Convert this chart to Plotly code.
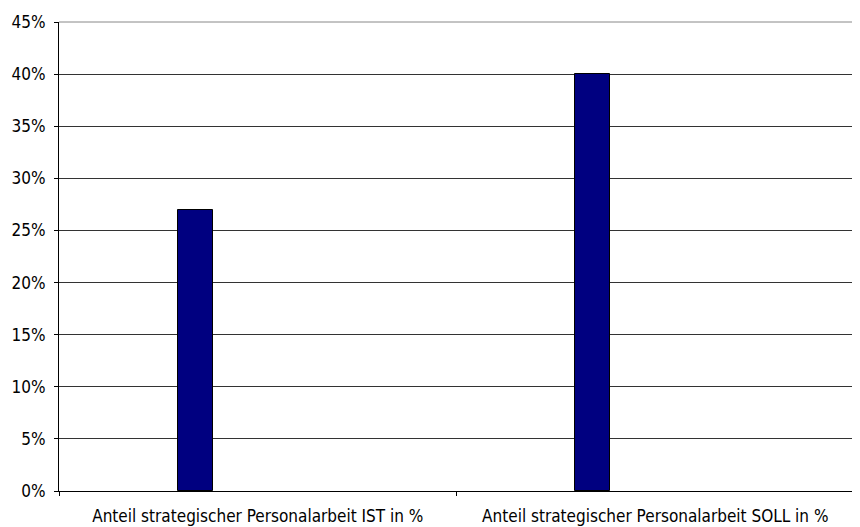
import plotly.graph_objects as go

categories = ["Anteil strategischer Personalarbeit IST in %",
              "Anteil strategischer Personalarbeit SOLL in %"]
values = [0.27, 0.40]
y_ticks = [0, 0.05, 0.10, 0.15, 0.20, 0.25, 0.30, 0.35, 0.40, 0.45]
y_tick_labels = ["0%", "5%", "10%", "15%", "20%", "25%", "30%", "35%", "40%", "45%"]

FONT = "DejaVu Sans Condensed, Liberation Sans Narrow, Arial Narrow, sans-serif"

fig = go.Figure(go.Bar(
    x=categories, y=values,
    width=0.088, offset=-0.201,
    marker=dict(color="#000080", line=dict(color="#000000", width=1)),
))

# page body has an 8px default margin; size the figure to compensate
fig.update_layout(
    width=852, height=519,
    margin=dict(l=51, r=6, t=14, b=36),
    paper_bgcolor="white", plot_bgcolor="white",
    showlegend=False,
    font=dict(family=FONT, size=17, color="#000000"),
    bargap=0,
)
fig.update_xaxes(
    type="category", range=[-0.5, 1.5], automargin=False,
    showline=True, linecolor="#000000", linewidth=1,
    ticks="outside", ticklen=4, tickcolor="#000000", tickson="boundaries",
    ticklabelstandoff=10,
    showgrid=False, tickfont=dict(size=17),
)
fig.update_yaxes(
    range=[0, 0.45], tickvals=y_ticks, ticktext=y_tick_labels, automargin=False,
    showline=True, linecolor="#000000", linewidth=1,
    ticks="outside", ticklen=4, tickcolor="#000000", ticklabelstandoff=5,
    showgrid=True, gridcolor="#333333", gridwidth=1,
    zeroline=False, tickfont=dict(size=17),
)
# gray top and right border of plot area
fig.add_shape(type="line", xref="paper", yref="paper", x0=0, x1=1, y0=1, y1=1,
              line=dict(color="#888888", width=1))
fig.add_shape(type="line", xref="paper", yref="paper", x0=1, x1=1, y0=0, y1=1,
              line=dict(color="#888888", width=2))

fig.write_html("out.html")
